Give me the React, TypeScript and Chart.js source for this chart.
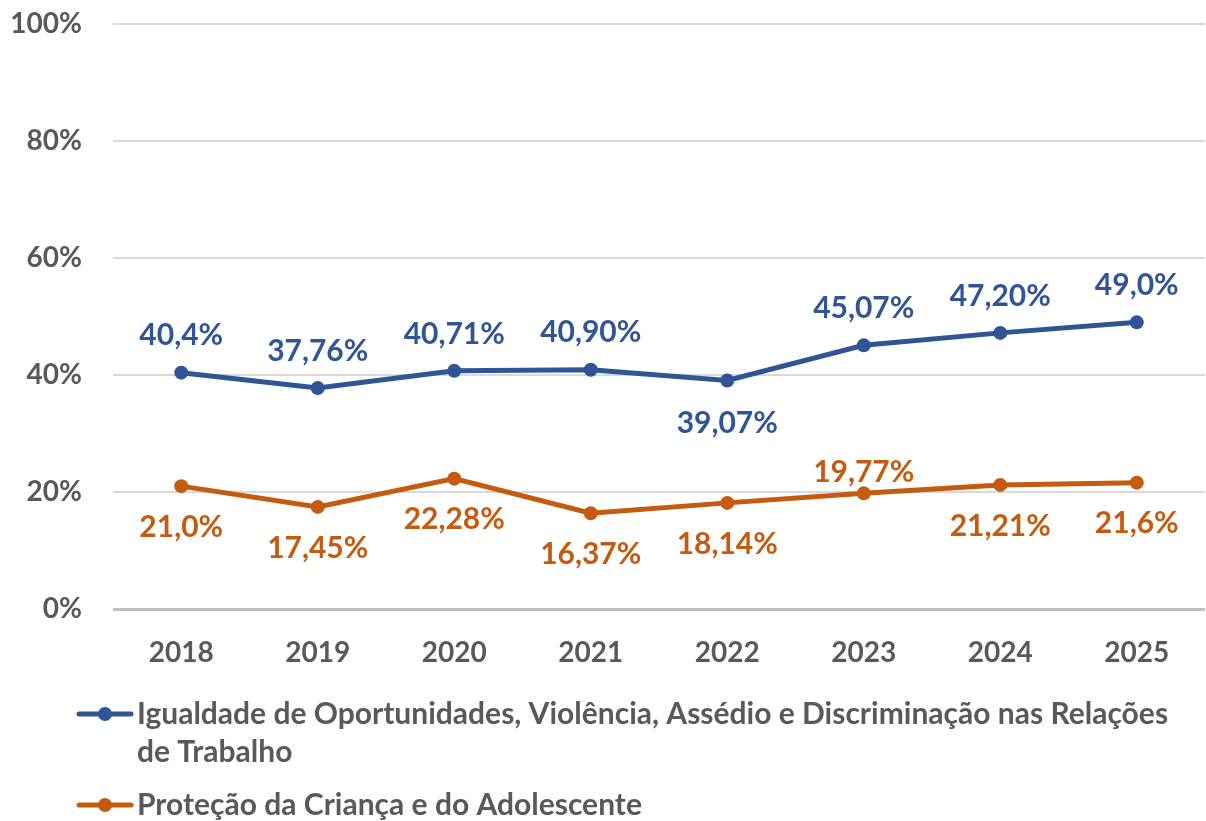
import React, { useEffect, useRef } from "react";
import { Chart, registerables } from "chart.js";

Chart.register(...registerables);

const categories = ["2018", "2019", "2020", "2021", "2022", "2023", "2024", "2025"];
const igualdadeValues = [40.4, 37.76, 40.71, 40.9, 39.07, 45.07, 47.2, 49.0];
const protecaoValues = [21.0, 17.45, 22.28, 16.37, 18.14, 19.77, 21.21, 21.6];
const igualdadeLabels = ["40,4%", "37,76%", "40,71%", "40,90%", "39,07%", "45,07%", "47,20%", "49,0%"];
const protecaoLabels = ["21,0%", "17,45%", "22,28%", "16,37%", "18,14%", "19,77%", "21,21%", "21,6%"];
const seriesNames = [
  "Igualdade de Oportunidades, Violência, Assédio e Discriminação nas Relações de Trabalho",
  "Proteção da Criança e do Adolescente",
];
const yTickValues = [0, 20, 40, 60, 80, 100];

// styling: vertical offset (px) of each data label relative to its point
const igualdadeLabelOffsets = [-37, -37, -37, -37, 43, -37, -37, -37];
const protecaoLabelOffsets = [41, 41, 41, 41, 41, -21, 41, 41];

const BLUE = "#2F5597";
const ORANGE = "#C55A11";
const GREY_TEXT = "#595959";
const FONT = "Lato, 'Open Sans', sans-serif";

const dataLabelPlugin = {
  id: "dataLabelPlugin",
  afterDatasetsDraw(chart: any) {
    const ctx = chart.ctx;
    const labelSets = [igualdadeLabels, protecaoLabels];
    const offsets = [igualdadeLabelOffsets, protecaoLabelOffsets];
    const colors = [BLUE, ORANGE];
    ctx.save();
    ctx.font = `bold 30px ${FONT}`;
    ctx.textAlign = "center";
    ctx.textBaseline = "middle";
    chart.data.datasets.forEach((_ds: any, di: number) => {
      const meta = chart.getDatasetMeta(di);
      ctx.fillStyle = colors[di];
      meta.data.forEach((pt: any, i: number) => {
        ctx.fillText(labelSets[di][i], pt.x, pt.y + offsets[di][i]);
      });
    });
    ctx.restore();
  },
};

const legendPlugin = {
  id: "customLegend",
  afterDraw(chart: any) {
    const ctx = chart.ctx;
    const colors = [BLUE, ORANGE];
    const textX = 137;
    const maxW = 1050;
    const lineH = 38;
    let y = 714;
    ctx.save();
    ctx.font = `bold 30px ${FONT}`;
    ctx.textBaseline = "middle";
    ctx.textAlign = "left";
    seriesNames.forEach((name, i) => {
      ctx.strokeStyle = colors[i];
      ctx.lineWidth = 5;
      ctx.lineCap = "round";
      ctx.beginPath();
      ctx.moveTo(79, y);
      ctx.lineTo(131, y);
      ctx.stroke();
      ctx.fillStyle = colors[i];
      ctx.beginPath();
      ctx.arc(105, y, 7, 0, Math.PI * 2);
      ctx.fill();
      const words = name.split(" ");
      const lines: string[] = [];
      let cur = "";
      words.forEach((w) => {
        const test = cur ? cur + " " + w : w;
        if (ctx.measureText(test).width > maxW && cur) {
          lines.push(cur);
          cur = w;
        } else {
          cur = test;
        }
      });
      if (cur) lines.push(cur);
      ctx.fillStyle = GREY_TEXT;
      lines.forEach((ln, li) => {
        ctx.fillText(ln, textX, y + li * lineH);
      });
      y += (lines.length - 1) * lineH + 53;
    });
    ctx.restore();
  },
};

export default function App() {
  const canvasRef = useRef<HTMLCanvasElement | null>(null);

  useEffect(() => {
    if (!canvasRef.current) return;
    const chart = new Chart(canvasRef.current, {
      type: "line",
      data: {
        labels: categories,
        datasets: [
          {
            label: seriesNames[0],
            data: igualdadeValues,
            borderColor: BLUE,
            backgroundColor: BLUE,
            pointBackgroundColor: BLUE,
            pointBorderWidth: 0,
            pointRadius: 7,
            borderWidth: 5,
            tension: 0,
          },
          {
            label: seriesNames[1],
            data: protecaoValues,
            borderColor: ORANGE,
            backgroundColor: ORANGE,
            pointBackgroundColor: ORANGE,
            pointBorderWidth: 0,
            pointRadius: 7,
            borderWidth: 5,
            tension: 0,
          },
        ],
      },
      options: {
        responsive: false,
        animation: false,
        devicePixelRatio: 1,
        layout: { padding: { top: 24, left: 0, right: 0, bottom: 0 } },
        plugins: {
          legend: { display: false },
          tooltip: { enabled: false },
        },
        scales: {
          x: {
            offset: true,
            grid: { display: false, drawTicks: false },
            border: { display: false },
            ticks: {
              color: GREY_TEXT,
              font: { family: FONT, size: 28, weight: "bold" },
              padding: 27,
              maxRotation: 0,
            },
            afterFit(scale: any) {
              scale.height = 212;
              scale.paddingLeft = 0;
              scale.paddingRight = 0;
            },
          },
          y: {
            min: 0,
            max: 100,
            afterBuildTicks(scale: any) {
              scale.ticks = yTickValues.map((v) => ({ value: v }));
            },
            grid: {
              drawTicks: false,
              color: (c: any) => (c.tick && c.tick.value === 0 ? "#BFBFBF" : "#D9D9D9"),
              lineWidth: (c: any) => (c.tick && c.tick.value === 0 ? 3 : 2),
            },
            border: { display: false },
            ticks: {
              color: GREY_TEXT,
              font: { family: FONT, size: 28, weight: "bold" },
              padding: 31,
              callback: (v: any) => `${v}%`,
            },
            afterFit(scale: any) {
              scale.width = 113;
              scale.paddingTop = 0;
              scale.paddingBottom = 0;
            },
          },
        },
      },
      plugins: [dataLabelPlugin, legendPlugin],
    });
    return () => chart.destroy();
  }, []);

  return (
    <div
      style={{
        position: "fixed",
        left: 0,
        top: 0,
        width: 1206,
        height: 821,
        overflow: "hidden",
        background: "#ffffff",
      }}
    >
      <canvas ref={canvasRef} width={1212} height={821} style={{ display: "block", width: 1212, height: 821 }} />
    </div>
  );
}
